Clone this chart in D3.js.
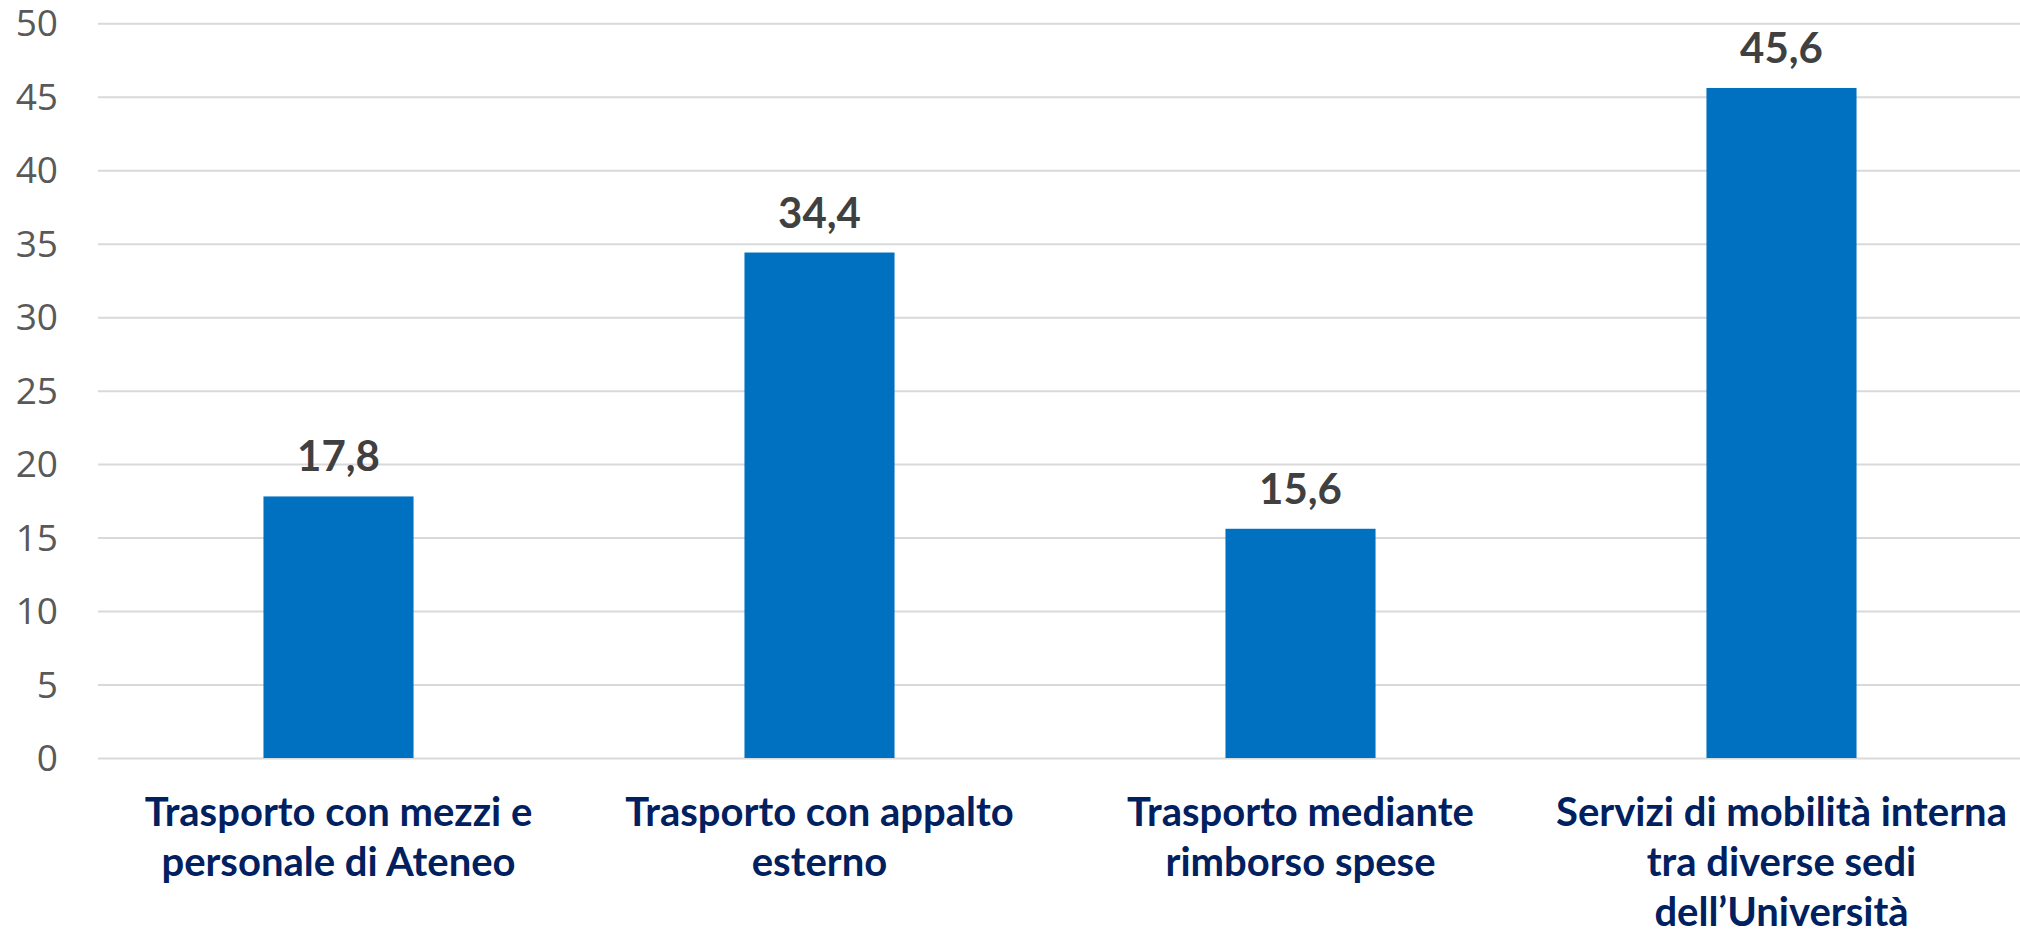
<!DOCTYPE html>
<html>
<head>
<meta charset="utf-8">
<script src="https://cdn.jsdelivr.net/npm/d3@7"></script>
<style>
  html, body { margin: 0; padding: 0; background: #ffffff; }
  svg { display: block; }
</style>
</head>
<body>
<svg id="chart" width="2020" height="933"></svg>
<script>
// ---- data ----
const categories = [
  "Trasporto con mezzi e\npersonale di Ateneo",
  "Trasporto con appalto\nesterno",
  "Trasporto mediante\nrimborso spese",
  "Servizi di mobilità interna\ntra diverse sedi\ndell’Università"
];
const values = [17.8, 34.4, 15.6, 45.6];
const valueLabels = ["17,8", "34,4", "15,6", "45,6"];
const yTicks = [0, 5, 10, 15, 20, 25, 30, 35, 40, 45, 50];

// ---- layout ----
const W = 2020, H = 933;
const plotLeft = 98, plotRight = 2022;
const plotTop = 23.3, plotBottom = 758;

const svg = d3.select("#chart");

const x = d3.scaleBand()
  .domain(categories)
  .range([plotLeft, plotRight])
  .paddingInner(0.688)
  .paddingOuter(0.344);

const y = d3.scaleLinear()
  .domain([0, 50])
  .range([plotBottom, plotTop]);

// gridlines + y labels
const yAxis = d3.axisLeft(y)
  .tickValues(yTicks)
  .tickSize(-(W - plotLeft))
  .tickPadding(40)
  .tickFormat(d => String(d));

const gy = svg.append("g")
  .attr("transform", `translate(${plotLeft},0)`)
  .call(yAxis);
gy.select(".domain").remove();
gy.selectAll(".tick line")
  .attr("stroke", "#d9d9d9")
  .attr("stroke-width", 2);
gy.selectAll(".tick text")
  .attr("fill", "#595959")
  .attr("font-family", "'Open Sans', sans-serif")
  .attr("font-size", 37)
  .attr("dy", "0.34em");

// bars
svg.append("g").selectAll("rect")
  .data(values)
  .join("rect")
  .attr("x", (d, i) => x(categories[i]))
  .attr("y", d => y(d))
  .attr("width", x.bandwidth())
  .attr("height", d => y(0) - y(d))
  .attr("fill", "#0070c0");

// value labels
svg.append("g").selectAll("text")
  .data(values)
  .join("text")
  .attr("x", (d, i) => x(categories[i]) + x.bandwidth() / 2)
  .attr("y", d => y(d) - 25)
  .attr("text-anchor", "middle")
  .attr("font-family", "Lato, sans-serif")
  .attr("font-weight", "bold")
  .attr("font-size", 42)
  .attr("fill", "#404040")
  .text((d, i) => valueLabels[i]);

// category labels
const gx = svg.append("g");
categories.forEach(c => {
  const lines = c.split("\n");
  const t = gx.append("text")
    .attr("x", x(c) + x.bandwidth() / 2)
    .attr("y", 826)
    .attr("text-anchor", "middle")
    .attr("font-family", "Lato, sans-serif")
    .attr("font-weight", "bold")
    .attr("font-size", 40)
    .attr("fill", "#002060");
  lines.forEach((l, i) => {
    t.append("tspan")
      .attr("x", x(c) + x.bandwidth() / 2)
      .attr("y", 826 + i * 50)
      .text(l);
  });
});
</script>
</body>
</html>
